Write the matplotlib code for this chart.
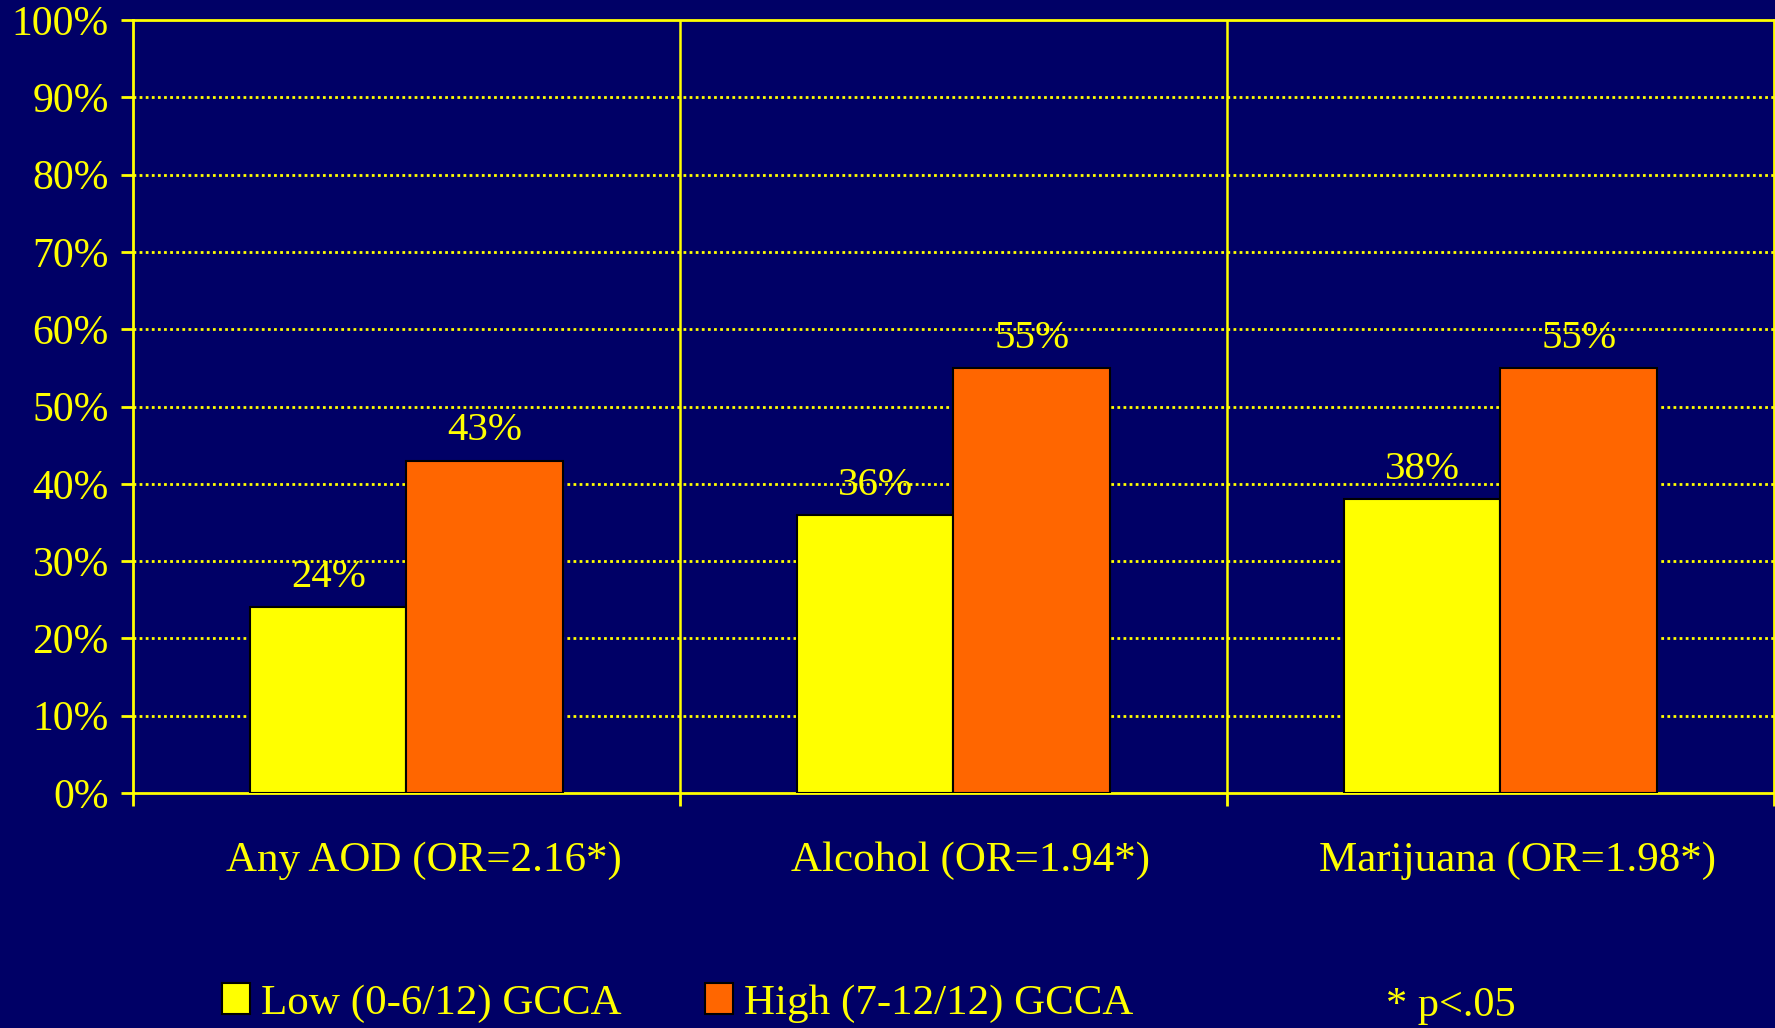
"""
Grouped bar chart: AOD use by GCCA level.
"""
import numpy as np
import matplotlib
matplotlib.use('Agg')
import matplotlib.pyplot as plt
import matplotlib.transforms as mtransforms

# Data.
categories = ['Any AOD (OR=2.16*)', 'Alcohol (OR=1.94*)', 'Marijuana (OR=1.98*)']
series_names = ['Low (0-6/12) GCCA', 'High (7-12/12) GCCA']
low_vals = [24, 36, 38]
high_vals = [43, 55, 55]
yticks = list(range(0, 101, 10))
note = '* p<.05'

# Colours.
bg = '#000066'
yellow = '#FFFF00'
orange = '#FF6600'

plt.rcParams['font.family'] = ['Liberation Serif', 'DejaVu Serif']


def main():
    fig = plt.figure(figsize=(17.75, 10.28), dpi=100, facecolor=bg)
    ax = fig.add_axes([133 / 1775, 1 - 793 / 1028, 1641 / 1775, 773 / 1028])
    ax.set_facecolor(bg)

    x = np.arange(len(categories))
    w = 0.286
    b_low = ax.bar(x - w / 2, low_vals, w, color=yellow, edgecolor='black',
                   linewidth=1.5, label=series_names[0], zorder=3)
    b_high = ax.bar(x + w / 2, high_vals, w, color=orange, edgecolor='black',
                    linewidth=1.5, label=series_names[1], zorder=3)

    # Value labels above bars.
    for bars, vals in ((b_low, low_vals), (b_high, high_vals)):
        for r, v in zip(bars, vals):
            ax.annotate('%d%%' % v, (r.get_x() + r.get_width() / 2, v),
                        xytext=(0, 8), textcoords='offset points',
                        ha='center', va='bottom', color=yellow, fontsize=29.5,
                        zorder=4)

    # Axes limits and ticks.
    ax.set_xlim(-0.5, len(categories) - 0.5)
    ax.set_ylim(0, 100)
    ax.set_yticks(yticks)
    ax.set_yticklabels(['%d%%' % t for t in yticks])
    ax.set_xticks(np.arange(len(categories) + 1) - 0.5)
    ax.set_xticklabels([])
    ax.set_xticks(x, minor=True)
    ax.set_xticklabels(categories, minor=True)
    ax.tick_params(axis='y', colors=yellow, labelsize=30, length=9, width=2,
                   pad=8.5)
    ax.tick_params(axis='x', which='major', colors=yellow, length=9, width=2)
    ax.tick_params(axis='x', which='minor', colors=yellow, labelsize=31,
                   length=0, pad=35)

    # The category labels sit a little right of the group centres.
    shift = mtransforms.ScaledTranslation(17 / 100, 0, fig.dpi_scale_trans)
    for lbl in ax.get_xticklabels(minor=True):
        lbl.set_transform(lbl.get_transform() + shift)

    # Dotted horizontal grid, solid separators between groups.
    for t in yticks[1:-1]:
        ax.axhline(t, color=yellow, linestyle=(0, (1, 1.2)), linewidth=2,
                   zorder=1)
    for s in np.arange(1, len(categories)) - 0.5:
        ax.axvline(s, color=yellow, linewidth=1.8, zorder=1)

    for sp in ax.spines.values():
        sp.set_color(yellow)
        sp.set_linewidth(2)

    # Legend and note.
    leg = fig.legend(handles=[b_low, b_high], loc='center left',
                     bbox_to_anchor=(222 / 1775, 1 - 1003 / 1028), ncol=2,
                     frameon=False, fontsize=31, borderpad=0,
                     borderaxespad=0, handlelength=0.65, handleheight=0.7,
                     handletextpad=0.25, columnspacing=1.95)
    for t in leg.get_texts():
        t.set_color(yellow)
    fig.text(1386 / 1775, 1 - 1006 / 1028, note, color=yellow, fontsize=30.5,
             ha='left', va='center')

    fig.savefig('out.png', dpi=100, facecolor=bg)


if __name__ == '__main__':
    main()
